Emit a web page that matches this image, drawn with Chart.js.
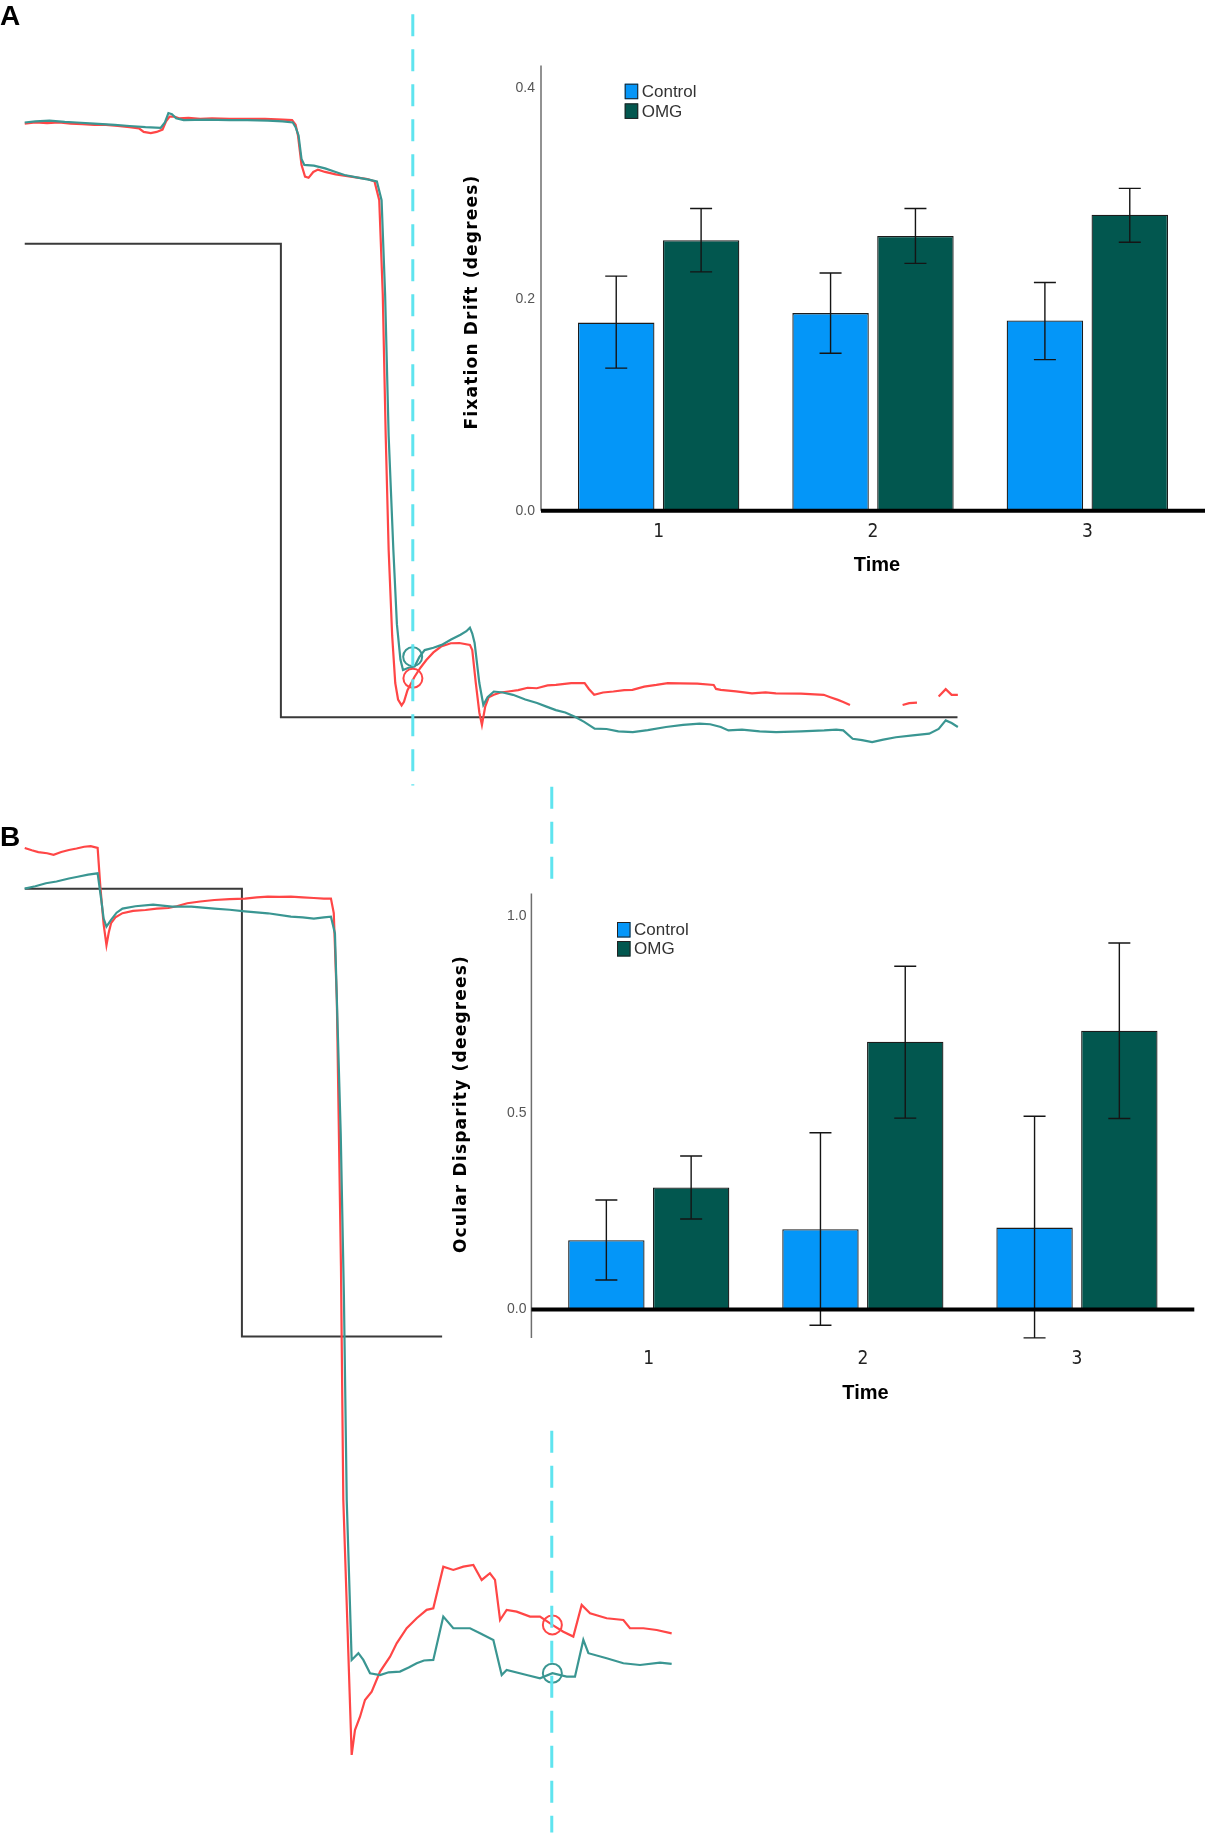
<!DOCTYPE html>
<html><head><meta charset="utf-8">
<script src="https://cdn.jsdelivr.net/npm/chart.js@4.4.1/dist/chart.umd.min.js"></script>
<style>
html,body{margin:0;padding:0;background:#fff;}
#fig{position:relative;width:1206px;height:1848px;overflow:hidden;background:#fff;}
#fig canvas{position:absolute;}
.plabel{position:absolute;font:bold 28px 'Liberation Sans',Arial,sans-serif;line-height:28px;color:#000;}
</style></head><body>
<div id="fig">
<canvas id="traces" width="1206" height="1848" style="left:0;top:0"></canvas>
<canvas id="barsA" width="766" height="550" style="left:440px;top:40px"></canvas>
<canvas id="barsB" width="766" height="544" style="left:440px;top:866px"></canvas>
<div class="plabel" style="left:0;top:2px">A</div>
<div class="plabel" style="left:0;top:823px">B</div>
</div>
<script>
// ---------------- bar chart data ----------------
const timeLabels = ['1', '2', '3'];
const seriesNames = ['Control', 'OMG'];

const driftControl     = [0.178, 0.187, 0.180];
const driftControlLow  = [0.135, 0.149, 0.143];
const driftControlHigh = [0.222, 0.225, 0.216];
const driftOMG         = [0.256, 0.260, 0.280];
const driftOMGLow      = [0.226, 0.234, 0.254];
const driftOMGHigh     = [0.286, 0.286, 0.305];
const driftTicks       = [0.0, 0.2, 0.4];

const dispControl      = [0.176, 0.204, 0.208];
const dispControlLow   = [0.075, -0.040, -0.072];
const dispControlHigh  = [0.278, 0.449, 0.491];
const dispOMG          = [0.310, 0.680, 0.708];
const dispOMGLow       = [0.230, 0.486, 0.485];
const dispOMGHigh      = [0.390, 0.872, 0.931];
const dispTicks        = [0.0, 0.5, 1.0];

// ---------------- eye-trace data: [time, position] ----------------
const redA = [[21,105],[30,104],[40,104.5],[50,104],[60,105],[70,105.5],[80,106],[90,106],[100,107],[110,108],[118,109],[122,112],[128,113],[133,112],[138,110],[141,103],[144,99],[148,99],[152,100.5],[160,100],[170,101],[180,100.5],[195,101],[210,101],[225,101],[240,101.5],[248,102],[251,106],[253,115],[256,140],[259,150],[262,151],[266,146],[270,144],[276,146],[285,148],[295,149.5],[305,151],[312,152],[318,154],[322,170],[325,250],[327.5,370],[330,467],[333,540],[335.6,580],[338,594],[341,599],[343,596],[346,586],[352,574.6],[357,567],[362,560.5],[368,554],[374.5,549],[382.8,546.2],[390,546],[399,547.6],[401,552],[404,580],[407,605],[409.2,615.6],[412,600],[415,592],[419.3,590],[425,588],[431.5,587.2],[440,586],[448,584],[455.8,584.4],[465,582],[472,581.6],[485,580],[496.4,580],[500,585],[504.5,590],[512,588],[520.8,587.2],[530,586],[537,585.8],[547,583],[557.3,581.6],[567,580],[577.6,580.2],[592,580.5],[606,581.6],[608,585],[612,585.8],[625,587],[638.5,588.7],[650,588],[658.8,588.7],[680,589],[699.4,590],[705,592],[711.5,594.3],[716,596],[721.7,598.6],[722,null],[766.4,598.6],[772,597],[778.6,596.6],[779,null],[797,591.5],[803,585.2],[808,590],[813.3,590]];
const tealA = [[21,104],[30,103],[42,102.5],[55,103.5],[65,104],[80,105],[97.5,106],[110,107],[123.5,108],[136.5,108.5],[140,104],[143,96],[146,97],[149.5,100.5],[156,102],[175,101.5],[195,102],[210,102],[227.5,102.4],[240,103],[248.6,104],[251,108],[253.5,115],[256,135],[258.4,140],[266.5,140.6],[276,143],[285,146],[292.5,148.6],[305,151],[313,152.5],[320,154],[324,170],[327,250],[330,370],[334,467],[337,530],[340,560],[342.2,569],[347,567],[352,566],[356,558],[360.6,552],[368,550],[375,547.6],[383,543],[391,539],[396,536],[399,533],[401,538],[403,546],[407,580],[410.4,598.6],[414,592],[419.3,587.2],[427,588],[435.6,590],[446,594],[456,597],[464,600],[472,603],[480,605],[488.6,608.8],[496,613],[504.9,618.7],[515,619],[525,621],[537.3,621.6],[550,620],[565.5,617.3],[580,615.5],[594,614.5],[603,615],[612,617.3],[618.5,620.2],[630,619.5],[645,621],[659,621.6],[680,621],[699.8,620.2],[710,619.5],[716,620.2],[724,627.3],[732,628.5],[740.5,630.2],[750,628],[760.7,626],[775,624.5],[789,623],[797,619],[803,611.7],[808,614],[813.3,617.3]];
const stimA = [[21,207],[238.5,207],[238.5,609],[813,609]];
const markA = [[350.4,557.6],[350.6,576]];
const cueA  = [[350.5,12],[350.5,667]];

const redB = [[21,720],[27,722],[32.5,723.5],[40,724.5],[45.5,725.8],[52,723.5],[58.5,721.8],[65,720.5],[71.5,719],[77,718.5],[82.9,720],[85.2,752.9],[88,785],[90.4,802.6],[92.3,792],[94.3,783.9],[98,779],[104,775.4],[113,773.5],[123.5,772.7],[133,771.5],[143,771],[150,769.5],[159,767],[170,765.5],[182,764.2],[195,763.5],[208,763],[218,762],[227.5,761.4],[237,761.5],[247,761.4],[257,762],[266.5,762.5],[275,763],[281,763],[283.4,775.4],[286,849],[289.5,1075],[291.5,1273.7],[295.2,1386.7],[298.6,1490.2],[301.4,1469],[305.7,1457.7],[309.9,1443.5],[315.6,1436.4],[322.7,1419.4],[331.2,1406.7],[336.8,1395.4],[345.3,1382.6],[353.8,1374.1],[362.3,1367],[367.9,1365.6],[376.4,1330.3],[384.9,1333.1],[393.4,1330.3],[401.9,1328.9],[409,1341.6],[416,1335.9],[420.3,1341.6],[424.6,1375.6],[430.2,1367],[438.7,1368.5],[450,1372.7],[458.5,1372.7],[469,1379.8],[478.3,1385.5],[486.8,1389.7],[493.9,1362.8],[501,1369.9],[515.1,1374.1],[529.3,1375.6],[534.9,1382.6],[546.3,1382.6],[557.6,1384.1],[570.3,1386.9]];
const tealB = [[21,754.6],[30,752.5],[39,750],[48,748.5],[58.5,746],[66,744.5],[74.8,742.7],[82.9,741.6],[86,764.2],[88,780],[90.4,786.8],[94.3,781.1],[99,775],[104,771.5],[115,769.5],[130,768.1],[146,769.9],[162.5,769.9],[182,771.5],[195,772.5],[208,773.8],[227.5,775.5],[247,778.4],[257,779],[266.5,780],[275,779],[281,778.4],[284.4,792.6],[289.3,962.4],[292,1100],[294.4,1273.7],[298.6,1409.5],[304.3,1403.8],[308.5,1409.5],[314.2,1420.8],[322.7,1422.3],[330,1420],[339.6,1419.4],[347,1416],[353.8,1412.3],[360,1410],[367.9,1409.5],[376.4,1372.7],[384.9,1382.6],[399.1,1382.6],[407.6,1386.9],[418.9,1392.5],[426,1422.3],[430.2,1418],[447.2,1422.3],[458.5,1425.1],[469,1420.8],[481.2,1423.7],[488.2,1423.7],[495.3,1392.5],[499.6,1403.8],[515.1,1408.1],[529.3,1412.3],[543.4,1413.8],[560.4,1411.8],[570.3,1412.9]];
const stimB = [[21,754.6],[205.4,754.6],[205.4,1134.8],[375.4,1134.8]];
const markB = [[469,1379.8],[469,1420.8]];
const cueB  = [[468.5,668],[468.5,750],[468.5,null],[468.5,1215],[468.5,1556]];

// ---------------- styles ----------------
const COL_CONTROL = '#0496f8';
const COL_OMG = '#02574f';
const COL_RED = '#ff4646';
const COL_TEAL = '#3a9692';
const COL_CUE = '#5fe4ef';
const SANS = "'Liberation Sans', Arial, sans-serif";
const NARROW = "'Liberation Sans Narrow', 'DejaVu Sans Condensed', 'Liberation Sans', sans-serif";
const WIDE = "'DejaVu Sans', Verdana, sans-serif";

const pts = a => a.map(p => ({x: p[0], y: p[1]}));
function traceLine(arr, color, w) {
  return {type: 'line', data: pts(arr), borderColor: color, borderWidth: w, pointRadius: 0, spanGaps: false, tension: 0, fill: false};
}
function cueLine(arr) {
  return {type: 'line', data: pts(arr), borderColor: COL_CUE, borderWidth: 3, borderDash: [22, 13], pointRadius: 0, spanGaps: false, fill: false};
}
function marks(arr, colors) {
  return {type: 'scatter', data: pts(arr), showLine: false, pointRadius: 9.5, pointStyle: 'circle',
          pointBorderColor: colors, pointBackgroundColor: 'rgba(0,0,0,0)', pointBorderWidth: 2};
}

new Chart(document.getElementById('traces'), {
  type: 'line',
  data: {datasets: [
    cueLine(cueA), cueLine(cueB),
    marks(markA, [COL_TEAL, COL_RED]), marks(markB, [COL_RED, COL_TEAL]),
    traceLine(tealA, COL_TEAL, 2.2), traceLine(tealB, COL_TEAL, 2.2),
    traceLine(redA, COL_RED, 2.2), traceLine(redB, COL_RED, 2.2),
    traceLine(stimA, '#3a3a3a', 2), traceLine(stimB, '#3a3a3a', 2)
  ]},
  options: {
    responsive: false, animation: false, events: [],
    layout: {padding: 0, autoPadding: false},
    scales: {
      x: {type: 'linear', min: 0, max: 1024, display: false},
      y: {type: 'linear', min: 0, max: 1569.2, reverse: true, display: false}
    },
    plugins: {legend: {display: false}, tooltip: {enabled: false}}
  }
});

// ---------------- bar chart decoration plugin ----------------
const decorPlugin = {
  id: 'decor',
  afterDatasetsDraw(chart, args, o) {
    const {ctx, chartArea: ca, scales: {y}} = chart;
    ctx.save();
    // error bars
    chart.data.datasets.forEach((ds, i) => {
      const meta = chart.getDatasetMeta(i);
      meta.data.forEach((bar, j) => {
        const yl = y.getPixelForValue(ds.errLow[j]);
        const yh = y.getPixelForValue(ds.errHigh[j]);
        ctx.strokeStyle = '#151515';
        ctx.lineWidth = 1.4;
        ctx.beginPath();
        ctx.moveTo(bar.x, yl); ctx.lineTo(bar.x, yh);
        ctx.moveTo(bar.x - o.cap / 2, yl); ctx.lineTo(bar.x + o.cap / 2, yl);
        ctx.moveTo(bar.x - o.cap / 2, yh); ctx.lineTo(bar.x + o.cap / 2, yh);
        ctx.stroke();
      });
    });
    // axis lines
    ctx.strokeStyle = '#6e6e6e';
    ctx.lineWidth = 1.5;
    ctx.beginPath();
    ctx.moveTo(ca.left - o.ext, ca.top); ctx.lineTo(ca.left - o.ext, ca.bottom);
    ctx.stroke();
    const y0 = y.getPixelForValue(0);
    ctx.strokeStyle = '#000';
    ctx.lineWidth = 4;
    ctx.beginPath();
    ctx.moveTo(ca.left - o.ext, y0); ctx.lineTo(ca.right + o.ext, y0);
    ctx.stroke();
    // y title
    ctx.fillStyle = '#000';
    ctx.font = 'bold 17px ' + WIDE;
    ctx.letterSpacing = '1.2px';
    ctx.textAlign = 'center';
    ctx.textBaseline = 'middle';
    ctx.save();
    ctx.translate(o.yTitleX, o.yTitleY);
    ctx.rotate(-Math.PI / 2);
    ctx.fillText(o.yTitle, 0, 0);
    ctx.restore();
    ctx.letterSpacing = '0px';
    // x title
    ctx.font = 'bold 20px ' + SANS;
    ctx.fillText(o.xTitle, o.xTitleX, o.xTitleY);
    // legend
    ctx.textAlign = 'left';
    ctx.font = '17px ' + SANS;
    chart.data.datasets.forEach((ds, i) => {
      const top = o.legY + i * o.legStep;
      ctx.fillStyle = ds.backgroundColor;
      ctx.fillRect(o.legX, top, 13.5, 15.5);
      ctx.strokeStyle = '#222';
      ctx.lineWidth = 1;
      ctx.strokeRect(o.legX + 0.5, top + 0.5, 12.5, 14.5);
      ctx.fillStyle = '#333';
      ctx.fillText(ds.label, o.legX + 17, top + 8.5);
    });
    ctx.restore();
  }
};

function barChart(id, c) {
  const mk = (label, data, lo, hi, col) => ({
    label, data, errLow: lo, errHigh: hi, backgroundColor: col,
    borderColor: '#1c1c1c', borderWidth: 1.3, borderSkipped: false,
    categoryPercentage: 0.792, barPercentage: 0.901
  });
  return new Chart(document.getElementById(id), {
    type: 'bar',
    data: {labels: timeLabels, datasets: [
      mk(seriesNames[0], c.control, c.controlLow, c.controlHigh, COL_CONTROL),
      mk(seriesNames[1], c.omg, c.omgLow, c.omgHigh, COL_OMG)
    ]},
    options: {
      responsive: false, animation: false, events: [],
      layout: {padding: c.pad, autoPadding: false},
      scales: {
        x: {
          grid: {display: false, drawTicks: false}, border: {display: false},
          ticks: {font: {family: NARROW, size: 19}, color: '#222', padding: c.xTickPad},
          afterFit: s => { s.height = c.xH; }
        },
        y: {
          min: c.min, max: c.max,
          grid: {display: false, drawTicks: false}, border: {display: false},
          ticks: {font: {family: SANS, size: 14}, color: '#555', padding: c.yTickPad,
                  callback: v => Number(v).toFixed(1)},
          afterBuildTicks: s => { s.ticks = c.ticks.map(v => ({value: v})); },
          afterFit: s => { s.width = c.yW; }
        }
      },
      plugins: {legend: {display: false}, tooltip: {enabled: false}, decor: c.decor}
    },
    plugins: [decorPlugin]
  });
}

barChart('barsA', {
  control: driftControl, controlLow: driftControlLow, controlHigh: driftControlHigh,
  omg: driftOMG, omgLow: driftOMGLow, omgHigh: driftOMGHigh,
  ticks: driftTicks, min: 0, max: 0.4212,
  pad: {left: 0, top: 25.5, right: 11.5, bottom: 0}, yW: 111.5, xH: 79.2,
  xTickPad: 10, yTickPad: 16.5,
  decor: {cap: 22, ext: 10.5, yTitle: 'Fixation Drift (degrees)', yTitleX: 33, yTitleY: 262,
          xTitle: 'Time', xTitleX: 437, xTitleY: 525.6, legX: 184.7, legY: 43.7, legStep: 19.7}
});

barChart('barsB', {
  control: dispControl, controlLow: dispControlLow, controlHigh: dispControlHigh,
  omg: dispOMG, omgLow: dispOMGLow, omgHigh: dispOMGHigh,
  ticks: dispTicks, min: -0.0724, max: 1.0569,
  pad: {left: 0, top: 27.4, right: 22, bottom: 0}, yW: 101.7, xH: 72,
  xTickPad: 10, yTickPad: 15.2,
  decor: {cap: 22, ext: 10.3, yTitle: 'Ocular Disparity (deegrees)', yTitleX: 22, yTitleY: 238,
          xTitle: 'Time', xTitleX: 425.5, xTitleY: 527.5, legX: 177, legY: 56, legStep: 19}
});
</script>
</body></html>
